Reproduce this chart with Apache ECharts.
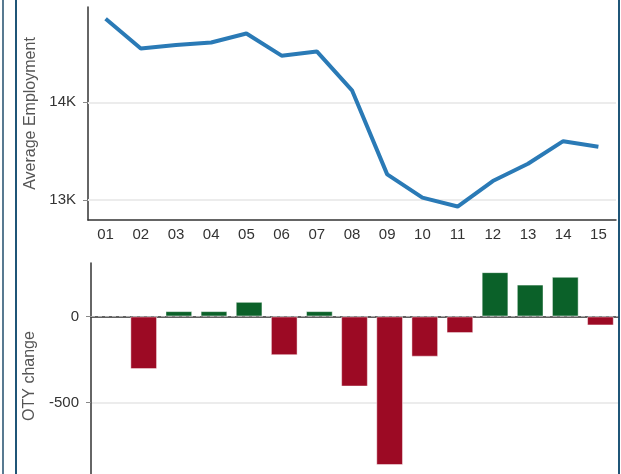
<!DOCTYPE html>
<html>
<head>
    <meta charset="utf-8">
    <title>Average Employment</title>
    <script src="https://cdn.jsdelivr.net/npm/echarts@6/dist/echarts.min.js"></script>
    <style>
        html, body { margin: 0; padding: 0; overflow: hidden; background: #fff; }
        #chart1 { width: 621px; height: 540px; }
    </style>
</head>
<body>
    <div id="chart1"></div>
    <script type="text/javascript">
        // data
        var years = ['01','02','03','04','05','06','07','08','09','10','11','12','13','14','15'];
        var employment = [14854, 14551, 14586, 14612, 14704, 14477, 14520, 14122, 13262, 13024, 12933, 13194, 13371, 13602, 13545];
        var otyChange = [null, -305, 31, 31, 85, -224, 31, -406, -861, -233, -96, 257, 185, 230, -52];
        var employmentTicks = [13000, 14000];
        var changeTicks = [-500, 0];

        var red = '#9c0a24', green = '#0b6129';

        var myChart = echarts.init(document.getElementById('chart1'));

        var labelFont = { fontFamily: 'Arial, "Liberation Sans", sans-serif', fontSize: 15, color: '#333' };
        var nameFont = { fontFamily: 'Arial, "Liberation Sans", sans-serif', fontSize: 16, color: '#555' };

        var option = {
            animation: false,
            grid: [
                { left: 88, top: 7, right: 5, height: 213 },
                { left: 91, top: 263, right: 3, height: 226 }
            ],
            graphic: [
                { type: 'rect', shape: { x: 2, y: 0, width: 2, height: 474 }, style: { fill: '#587a91' } },
                { type: 'rect', shape: { x: 15, y: 0, width: 2, height: 474 }, style: { fill: '#1f5577' } },
                { type: 'rect', shape: { x: 618, y: 0, width: 2, height: 474 }, style: { fill: '#1f5577' } }
            ],
            xAxis: [{
                gridIndex: 0,
                type: 'category',
                data: years,
                axisLine: { lineStyle: { color: '#333', width: 1.5 } },
                axisTick: { lineStyle: { color: '#666' }, length: 5 },
                axisLabel: Object.assign({ margin: 7 }, labelFont)
            }, {
                gridIndex: 1,
                type: 'category',
                data: years,
                axisLine: { lineStyle: { color: '#333', width: 1.5 } },
                axisTick: { show: false },
                axisLabel: labelFont
            }],
            yAxis: [{
                gridIndex: 0,
                type: 'value',
                min: 12795,
                max: 14975,
                name: 'Average Employment',
                nameLocation: 'middle',
                nameGap: 47,
                nameTextStyle: nameFont,
                axisLine: { show: true, lineStyle: { color: '#333', width: 1.5 } },
                axisTick: { show: true, length: 5, lineStyle: { color: '#888' }, customValues: employmentTicks },
                axisLabel: Object.assign({
                    margin: 12,
                    customValues: employmentTicks,
                    formatter: function (v) { return (v / 1000) + 'K'; }
                }, labelFont),
                splitLine: { show: false }
            }, {
                gridIndex: 1,
                type: 'value',
                min: -1000,
                max: 310,
                interval: 500,
                name: 'OTY change',
                nameLocation: 'middle',
                nameGap: 49,
                nameTextStyle: nameFont,
                axisLine: { show: true, lineStyle: { color: '#333', width: 1.5 } },
                axisTick: { show: true, length: 5, lineStyle: { color: '#888' }, customValues: changeTicks },
                axisLabel: Object.assign({
                    margin: 12,
                    customValues: changeTicks,
                    formatter: function (v) { return String(v); }
                }, labelFont),
                splitLine: { show: true, lineStyle: { color: ['#ececec', '#ececec', 'transparent', 'transparent'], width: 2 } }
            }],
            series: [{
                // gridlines for the top chart, kept under the line
                type: 'line',
                xAxisIndex: 0,
                yAxisIndex: 0,
                data: [],
                z: 1,
                markLine: {
                    silent: true,
                    z: 1,
                    symbol: 'none',
                    label: { show: false },
                    lineStyle: { color: '#ececec', type: 'solid', width: 2 },
                    data: employmentTicks.map(function (v) { return { yAxis: v }; })
                }
            }, {
                name: 'Average Employment',
                type: 'line',
                xAxisIndex: 0,
                yAxisIndex: 0,
                z: 6,
                data: employment,
                showSymbol: false,
                lineStyle: { color: '#2a7ab6', width: 4 }
            }, {
                name: 'OTY change',
                type: 'bar',
                xAxisIndex: 1,
                yAxisIndex: 1,
                barCategoryGap: '24%',
                data: otyChange.map(function (v) {
                    return { value: v, itemStyle: { color: v < 0 ? red : green } };
                }),
                itemStyle: { borderColor: 'rgba(255,255,255,0.45)', borderWidth: 1 },
                markLine: {
                    silent: true,
                    symbol: 'none',
                    label: { show: false },
                    lineStyle: { color: '#aaa', type: [4, 3], width: 1.2 },
                    data: [{ yAxis: 0 }]
                }
            }]
        };
        myChart.setOption(option);
    </script>
</body>
</html>
